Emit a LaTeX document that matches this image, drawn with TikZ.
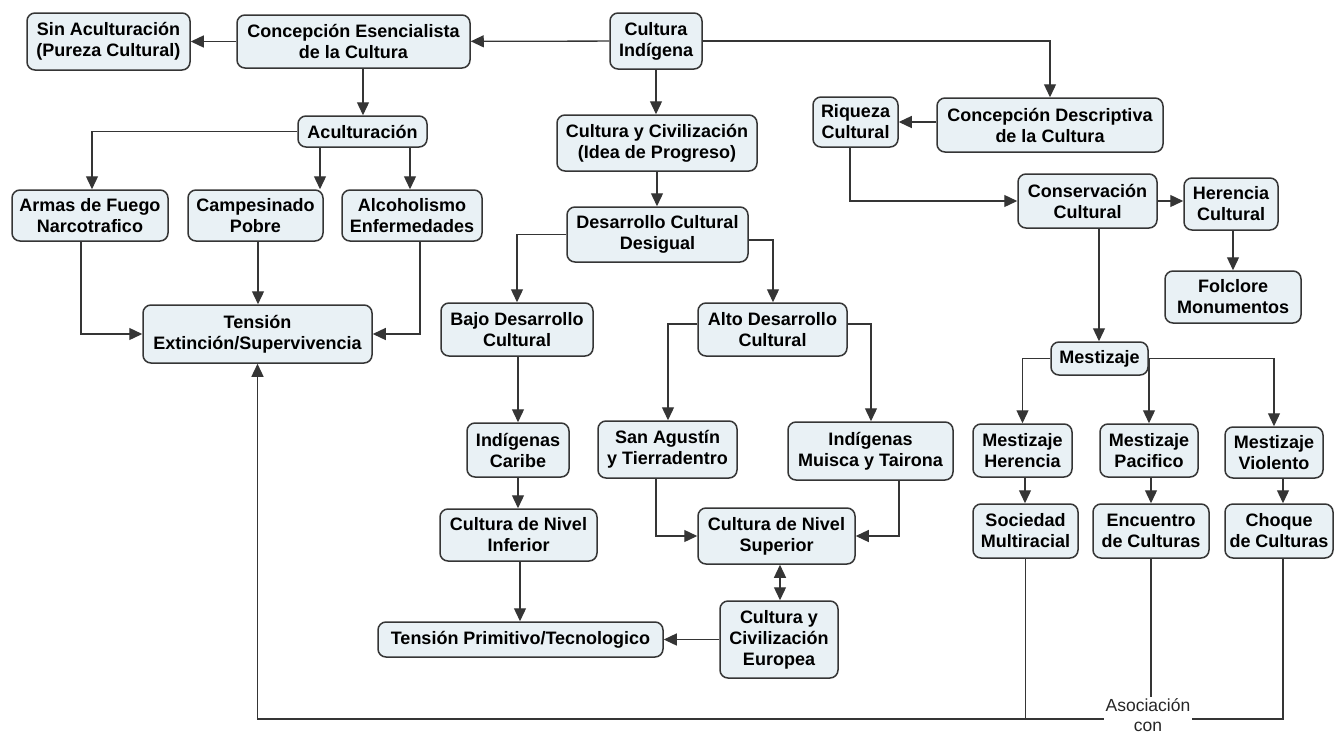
\documentclass[tikz,border=0pt]{standalone}
\usepackage{fontspec}
\setmainfont{Liberation Sans}
\usetikzlibrary{arrows.meta}
\definecolor{boxfill}{HTML}{E9F1F5}
\definecolor{ink}{HTML}{353535}
\begin{document}
\begin{tikzpicture}[x=1pt,y=-1pt,
  box/.style={draw=ink, line width=1.5pt, fill=boxfill, rounded corners=8pt,
    align=center, inner sep=1pt, text=black,
    font=\fontsize{18}{21}\selectfont\bfseries},
  tip/.tip={Triangle[length=13pt,width=12pt]},
  link/.style={draw=ink, line width=1.3pt, -tip},
  plain/.style={draw=ink, line width=1.3pt}]
\useasboundingbox (0,0) rectangle (1334,737);
\newcommand\cbox[6]{\node[box, minimum width=#4pt, minimum height=#5pt] (#1) at (#2,#3) {#6};}

% top row
\cbox{sin}{108.5}{41.5}{163}{57}{Sin Aculturación\\(Pureza Cultural)}
\cbox{esen}{353.5}{41.5}{233}{53}{Concepción Esencialista\\de la Cultura}
\cbox{ind}{656}{41}{92}{56}{Cultura\\Indígena}

% left branch
\cbox{acul}{362.5}{131.5}{129}{31}{Aculturación}
\cbox{armas}{90}{215.5}{156}{51}{Armas de Fuego\\Narcotrafico}
\cbox{camp}{255.5}{215.5}{135}{51}{Campesinado\\Pobre}
\cbox{alco}{412}{215.5}{140}{51}{Alcoholismo\\Enfermedades}
\cbox{tens}{257.5}{334}{229}{58}{Tensión\\Extinción/Supervivencia}

% middle branch
\cbox{cyc}{657}{143}{200}{56}{Cultura y Civilización\\(Idea de Progreso)}
\cbox{des}{657.5}{234.5}{181}{55}{Desarrollo Cultural\\Desigual}
\cbox{bajo}{517}{329.5}{152}{53}{Bajo Desarrollo\\Cultural}
\cbox{alto}{772.5}{329.5}{149}{53}{Alto Desarrollo\\Cultural}
\cbox{caribe}{518}{450}{102}{54}{Indígenas\\Caribe}
\cbox{sanag}{667.5}{449.5}{139}{57}{San Agustín\\y Tierradentro}
\cbox{muisca}{870.5}{451}{165}{58}{Indígenas\\Muisca y Tairona}
\cbox{inf}{518.5}{535}{157}{52}{Cultura de Nivel\\Inferior}
\cbox{sup}{776.5}{536}{157}{56}{Cultura de Nivel\\Superior}
\cbox{eur}{779}{639.5}{118}{77}{Cultura y\\Civilización\\Europea}
\cbox{tprim}{520.5}{639.5}{285}{35}{Tensión Primitivo/Tecnologico}

% right branch
\cbox{riq}{855.5}{122}{85}{50}{Riqueza\\Cultural}
\cbox{desc}{1050}{125}{226}{54}{Concepción Descriptiva\\de la Cultura}
\cbox{cons}{1087.5}{201}{139}{54}{Conservación\\Cultural}
\cbox{her}{1231}{204}{94}{52}{Herencia\\Cultural}
\cbox{fol}{1233}{297}{136}{52}{Folclore\\Monumentos}
\cbox{mest}{1099.5}{358.5}{97}{33}{Mestizaje}
\cbox{mher}{1022.5}{450.5}{99}{53}{Mestizaje\\Herencia}
\cbox{mpac}{1149}{450.5}{98}{53}{Mestizaje\\Pacifico}
\cbox{mvio}{1274}{452.5}{98}{51}{Mestizaje\\Violento}
\cbox{soc}{1025.5}{531}{105}{54}{Sociedad\\Multiracial}
\cbox{enc}{1151}{531}{116}{54}{Encuentro\\de Culturas}
\cbox{choq}{1279}{531}{108}{54}{Choque\\de Culturas}

% label where the association lines meet
\node[font=\fontsize{17.5}{20}\selectfont, fill=white, inner sep=1.5pt, align=center,
  text=black!85] (asoc) at (1148,715) {Asociación\\con};

% top connectors
\draw[link] (ind) -- (esen);
\draw[link] (esen) -- (sin);
\draw[link] (ind.east) -| (desc.north);
\draw[link] (ind.south) -- (ind.south |- cyc.north);
\draw[link] (cyc.south) -- (cyc.south |- des.north);

% essentialist branch
\draw[link] (363,0 |- esen.south) -- (363,0 |- acul.north);
\draw[link] (acul.west) -| (92,0 |- armas.north);
\draw[link] (320,0 |- acul.south) -- (320,0 |- camp.north);
\draw[link] (410,0 |- acul.south) -- (410,0 |- alco.north);
\draw[link] (81,0 |- armas.south) |- (tens.west);
\draw[link] (258,0 |- camp.south) -- (258,0 |- tens.north);
\draw[link] (420,0 |- alco.south) |- (tens.east);

% progress branch
\draw[link] (des.west) -| (bajo.north);
\draw[link] (des.east |- 0,240) -| (773,0 |- alto.north);
\draw[link] (518,0 |- bajo.south) -- (518,0 |- caribe.north);
\draw[link] (alto.west |- 0,324) -| (668,0 |- sanag.north);
\draw[link] (alto.east |- 0,324) -| (871,0 |- muisca.north);
\draw[link] (518,0 |- caribe.south) -- (518,0 |- inf.north);
\draw[link] (656,0 |- sanag.south) |- (sup.west |- 0,536);
\draw[link] (899,0 |- muisca.south) |- (sup.east |- 0,536);
\draw[draw=ink, line width=1.3pt, tip-tip] (780,0 |- sup.south) -- (780,0 |- eur.north);
\draw[link] (520,0 |- inf.south) -- (520,0 |- tprim.north);
\draw[link] (eur.west) -- (eur.west -| tprim.east);

% descriptive branch
\draw[link] (desc.west |- 0,122) -- (riq.east);
\draw[link] (850,0 |- riq.south) |- (cons.west);
\draw[link] (cons.east) -- (cons.east -| her.west);
\draw[link] (1233,0 |- her.south) -- (1233,0 |- fol.north);
\draw[link] (1099,0 |- cons.south) -- (1099,0 |- mest.north);
\draw[link] (mest.west) -| (mher.north);
\draw[link] (1149,0 |- mest.east) -- (1149,0 |- mpac.north);
\draw[link] (mest.east) -| (mvio.north);
\draw[link] (1025,0 |- mher.south) -- (1025,0 |- soc.north);
\draw[link] (1151,0 |- mpac.south) -- (1151,0 |- enc.north);
\draw[link] (1283,0 |- mvio.south) -- (1283,0 |- choq.north);

% association lines
\draw[link] (asoc.west |- 0,719) -| (tens.south);
\draw[plain] (soc.south) -- (soc.south |- 0,719);
\draw[plain] (enc.south) -- (enc.south |- asoc.north);
\draw[plain] (1283,0 |- choq.south) |- (asoc.east |- 0,719);
\end{tikzpicture}
\end{document}
